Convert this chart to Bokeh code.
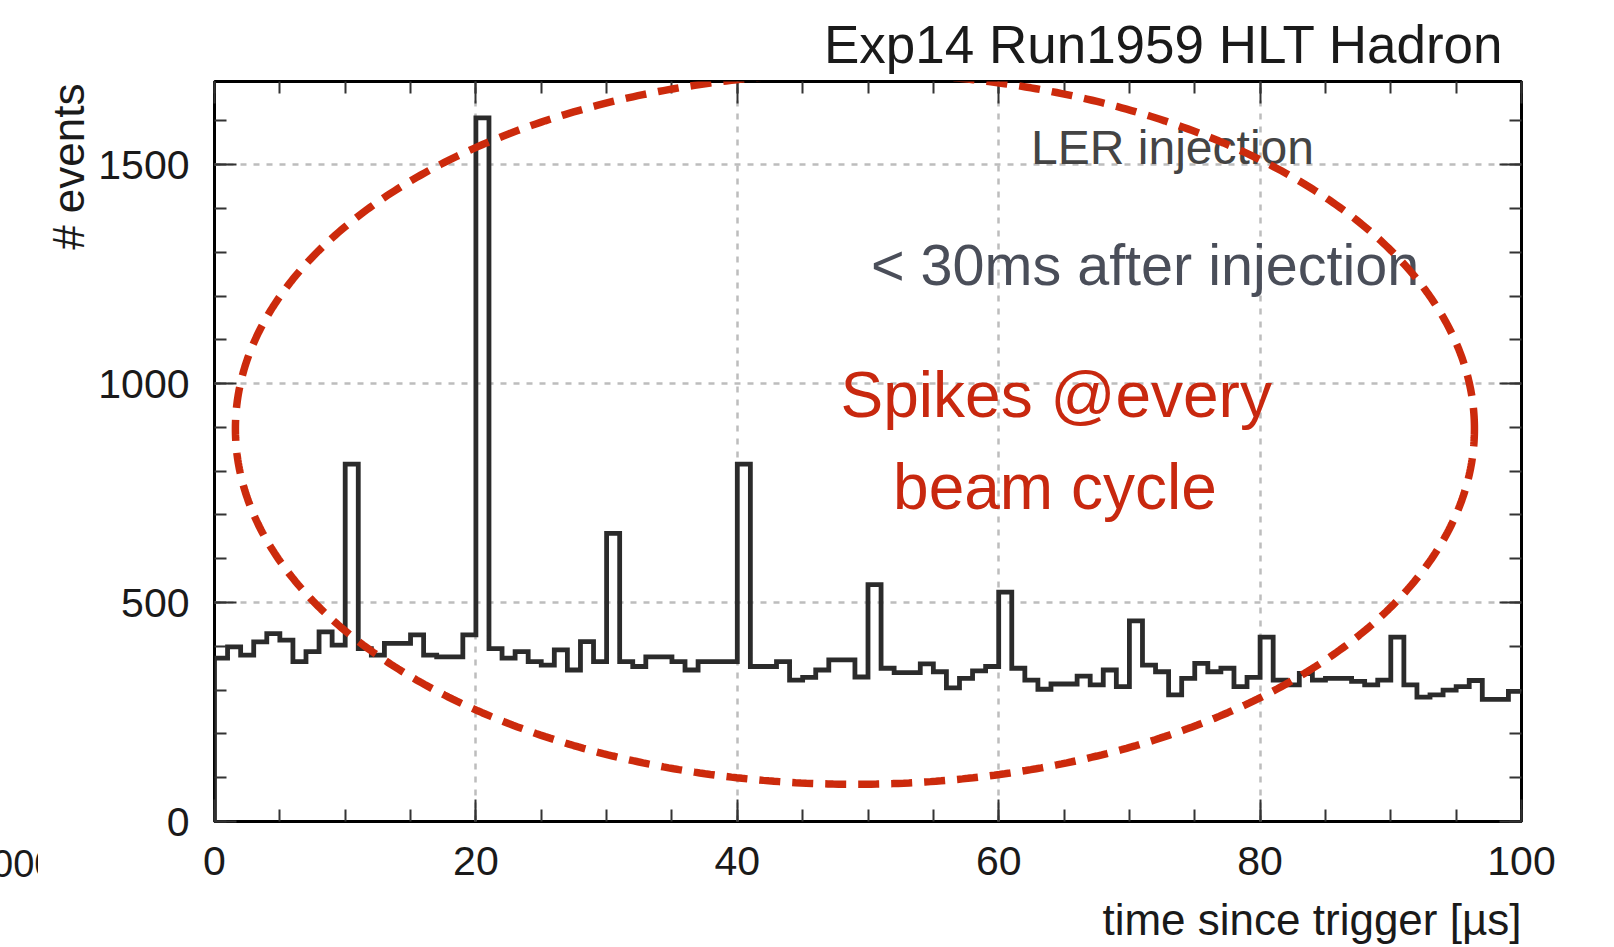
import numpy as np
from bokeh.plotting import figure
from bokeh.models import Range1d, LinearAxis, SingleIntervalTicker, Label, PolyAnnotation, Div, Title
from bokeh.layouts import row
from bokeh.embed import file_html
from bokeh.resources import INLINE

# ---- data ----
bin_edges = list(range(0, 101))          # time since trigger [us], 1 us bins
counts = [373, 399, 380, 410, 429, 414, 365, 388, 433, 403,
          816, 395, 380, 407, 407, 426, 380, 376, 376, 426,
          1607, 395, 373, 388, 365, 357, 392, 346, 411, 365,
          658, 365, 354, 376, 376, 365, 346, 365, 365, 365,
          816, 354, 354, 365, 323, 329, 346, 369, 369, 330,
          541, 350, 340, 340, 360, 342, 305, 327, 344, 354,
          524, 350, 323, 302, 314, 314, 332, 312, 346, 308,
          458, 357, 342, 289, 327, 361, 342, 350, 308, 329,
          421, 323, 312, 338, 323, 327, 327, 320, 312, 323,
          421, 312, 284, 289, 300, 308, 322, 279, 279, 297]
x_ticks_major = 20
y_ticks_major = 500
title_text = "Exp14 Run1959 HLT Hadron"
xlabel_text = "time since trigger [\u00b5s]"
ylabel_text = "# events"

FONT = "Liberation Sans"
INK = "#1a1a1a"

# ---- left sliver with the clipped label of a neighbouring plot ----
sliver = Div(
    text=('<div style="width:38px;height:947px;overflow:hidden;">'
          '<div style="margin-top:845px;margin-left:-8px;font-family:\'Liberation Sans\';'
          'font-size:38px;line-height:1;color:#1a1a1a;white-space:nowrap;">000</div></div>'),
    width=38, height=947, margin=0, styles={"overflow": "hidden"})

# ---- main histogram ----
p = figure(width=1576, height=947, x_range=Range1d(0, 100), y_range=Range1d(0, 1690),
           output_backend="svg", toolbar_location=None,
           min_border_left=174, min_border_right=93, min_border_top=81, min_border_bottom=126)
p.background_fill_color = "white"
p.border_fill_color = "white"
p.outline_line_color = "black"
p.outline_line_width = 3

xticker = SingleIntervalTicker(interval=x_ticks_major, num_minor_ticks=4)
yticker = SingleIntervalTicker(interval=y_ticks_major, num_minor_ticks=5)
p.xaxis.ticker = xticker
p.yaxis.ticker = yticker
p.add_layout(LinearAxis(ticker=xticker), "above")
p.add_layout(LinearAxis(ticker=yticker), "right")

for ax in p.axis:
    ax.axis_line_color = None
    ax.major_tick_in = 22
    ax.major_tick_out = 0
    ax.minor_tick_in = 12
    ax.minor_tick_out = 0
    ax.major_tick_line_color = "#333333"
    ax.major_tick_line_width = 2
    ax.minor_tick_line_color = "#333333"
    ax.minor_tick_line_width = 2
    ax.major_label_text_font = FONT
    ax.major_label_text_font_size = "41px"
    ax.major_label_text_color = INK
    ax.major_label_standoff = 25
for ax in p.above + p.right:
    if isinstance(ax, LinearAxis):
        ax.major_label_text_font_size = "1px"
        ax.major_label_text_color = None
        ax.major_label_standoff = 0

# spacer panel (nothing drawn) that pushes the x title down
spacer = LinearAxis(ticker=xticker, axis_line_color=None, major_tick_in=0, major_tick_out=17,
                    minor_tick_in=0, minor_tick_out=0, major_tick_line_color=None,
                    minor_tick_line_color=None, major_label_text_font_size="1px",
                    major_label_text_color=None, major_label_standoff=0)
p.add_layout(spacer, "below")

# ROOT-style titles: plot title top-right, axis titles at the axis ends
p.title.text = title_text
p.title.align = "right"
p.title.offset = 18
p.title.standoff = 16
p.title.text_font = FONT
p.title.text_font_size = "53px"
p.title.text_font_style = "normal"
p.title.text_color = INK

p.add_layout(Title(text=xlabel_text, align="right", offset=0, standoff=0, vertical_align="top",
                   text_font=FONT, text_font_size="44px", text_font_style="normal",
                   text_color=INK), "below")
p.add_layout(Title(text=ylabel_text, align="right", offset=2, standoff=6,
                   text_font=FONT, text_font_size="44px", text_font_style="normal",
                   text_color=INK), "left")

p.xgrid.ticker = xticker
p.ygrid.ticker = yticker
for g in (p.xgrid, p.ygrid):
    g.grid_line_color = "#bdbdbd"
    g.grid_line_dash = "6 7"
    g.grid_line_width = 2.5

step_x = [bin_edges[0]] + bin_edges[:-1] + [bin_edges[-1]]
step_y = [0] + counts + [counts[-1]]
p.step(step_x, step_y, mode="after", line_color="#2b2b2b", line_width=4.8, line_join="miter")

# annotation texts inside the frame
p.add_layout(Label(x=73.3, y=1540, text="LER injection", text_font=FONT, text_font_size="48px",
                   text_color="#444444", text_align="center", text_baseline="alphabetic"))
p.add_layout(Label(x=71.2, y=1272, text="< 30ms after injection", text_font=FONT,
                   text_font_size="57.5px", text_color="#4a4e59", text_align="center",
                   text_baseline="alphabetic"))
p.add_layout(Label(x=64.4, y=973, text="Spikes @every", text_font=FONT, text_font_size="64px",
                   text_color="#c8280f", text_align="center", text_baseline="alphabetic"))
p.add_layout(Label(x=64.3, y=765, text="beam cycle", text_font=FONT, text_font_size="64px",
                   text_color="#c8280f", text_align="center", text_baseline="alphabetic"))

# dashed ellipse highlighting the spikes
cx, cy, rx, ry = 49.0, 897.0, 47.4, 812.0
t = np.linspace(0, 2 * np.pi, 721)
p.add_layout(PolyAnnotation(xs=list(cx + rx * np.cos(t)), ys=list(cy + ry * np.sin(t)),
                            fill_color=None, fill_alpha=0, line_color="#cc2a0c", line_alpha=1.0,
                            line_width=7.5, line_dash="21 12"))

layout = row(sliver, p)
open("out.html", "w").write(file_html(layout, INLINE))
